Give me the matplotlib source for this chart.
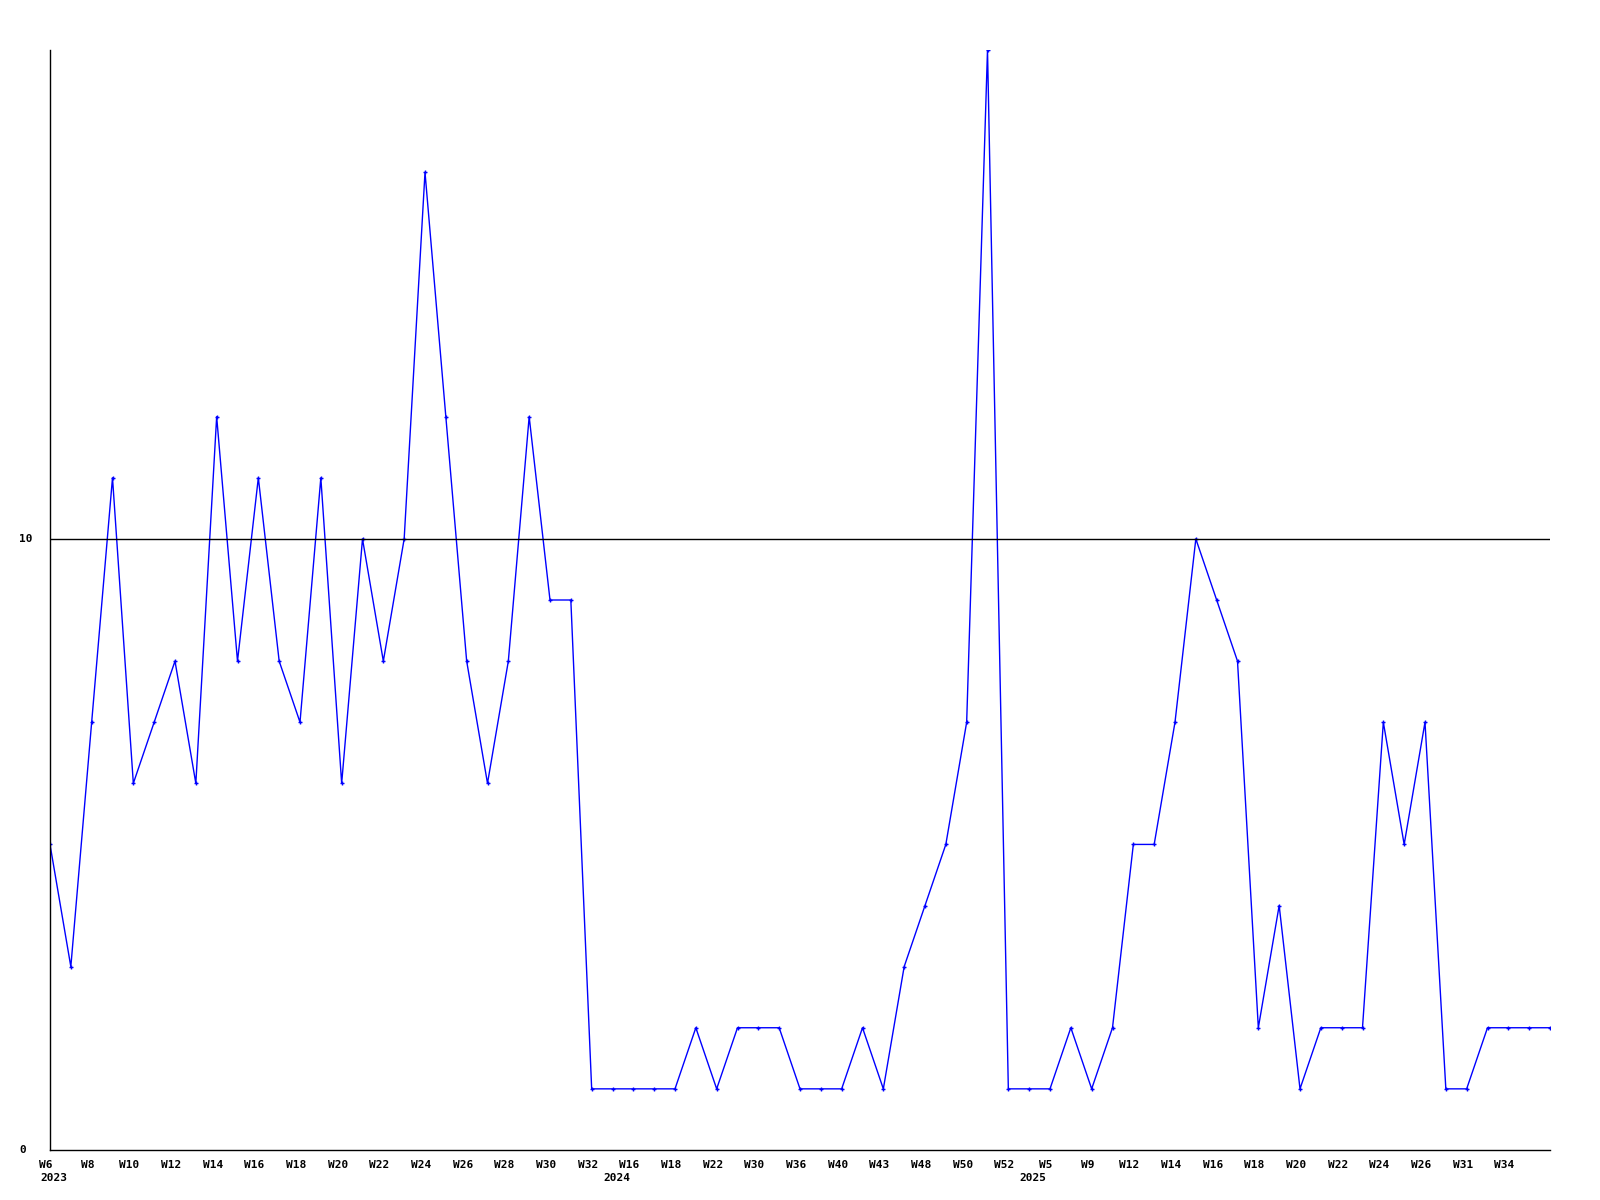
import numpy as np
import matplotlib.pyplot as plt
import matplotlib.transforms as mtransforms

# weekly counts
values = [5, 3, 7, 11, 6, 7, 8, 6, 12, 8, 11, 8, 7, 11, 6, 10, 8, 10, 16, 12,
          8, 6, 8, 12, 9, 9, 1, 1, 1, 1, 1, 2, 1, 2, 2, 2, 1, 1, 1, 2,
          1, 3, 4, 5, 7, 18, 1, 1, 1, 2, 1, 2, 5, 5, 7, 10, 9, 8, 2, 4,
          1, 2, 2, 2, 7, 5, 7, 1, 1, 2, 2, 2, 2]

# label every second week
week_labels = ["W6", "W8", "W10", "W12", "W14", "W16", "W18", "W20", "W22",
               "W24", "W26", "W28", "W30", "W32", "W16", "W18", "W22", "W30",
               "W36", "W40", "W43", "W48", "W50", "W52", "W5", "W9", "W12",
               "W14", "W16", "W18", "W20", "W22", "W24", "W26", "W31", "W34"]
years = ["2023", "2024", "2025"]
year_pos = [0, 27, 47]

font = {"family": "DejaVu Sans Mono", "weight": "bold", "size": 8}

fig = plt.figure(figsize=(16, 12), dpi=100)
ax = fig.add_axes([0.03125, 0.0417, 0.9375, 0.9166])

x = np.arange(len(values))
ax.plot(x, values, color="#0000ff", lw=1, marker="+", ms=3, mew=1)
ax.axhline(10, color="black", lw=1)

ax.set_xlim(0, len(values) - 1)
ax.set_ylim(0, 18)
for s in ["top", "right"]:
    ax.spines[s].set_visible(False)
for s in ["left", "bottom"]:
    ax.spines[s].set_linewidth(1)

ax.set_xticks(np.arange(0, 2 * len(week_labels), 2))
ax.set_xticklabels(week_labels, **font)
ax.tick_params(axis="x", length=0, pad=7)
shift = mtransforms.ScaledTranslation(-4 / 100, 0, fig.dpi_scale_trans)
for lab in ax.get_xticklabels():
    lab.set_transform(lab.get_transform() + shift)

ax.set_yticks([])
# y labels left aligned near the figure edge
for v in [0, 10]:
    ax.text(19, v, str(v), transform=mtransforms.blended_transform_factory(
        fig.dpi_scale_trans + mtransforms.Affine2D().scale(0.01), ax.transData),
        ha="left", va="center", **font)

trans = mtransforms.blended_transform_factory(ax.transData, ax.transAxes)
yshift = mtransforms.ScaledTranslation(4 / 100, 0, fig.dpi_scale_trans)
for yr, p in zip(years, year_pos):
    ax.text(p, -0.0255, yr, transform=trans + yshift, ha="center",
            va="center", **font)

fig.savefig("out.png", dpi=100)
